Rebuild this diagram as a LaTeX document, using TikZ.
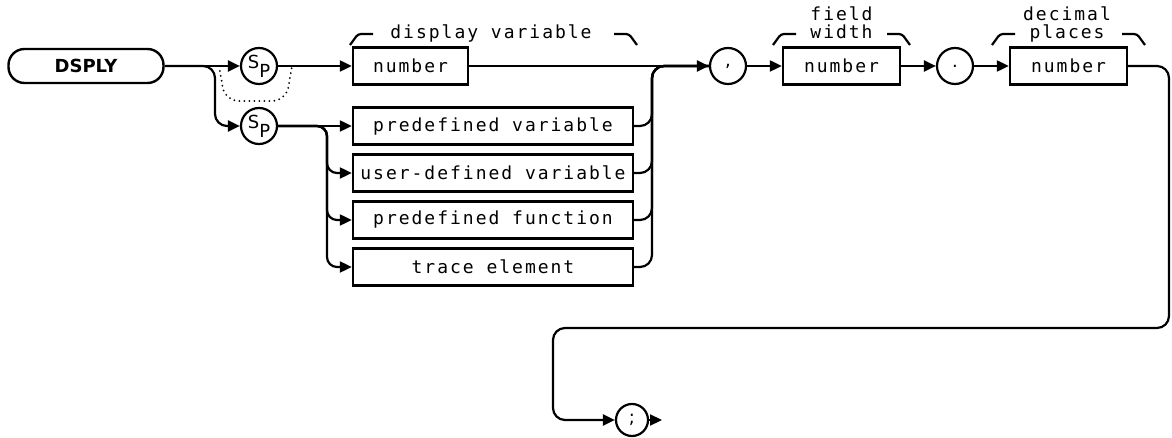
\documentclass[tikz,border=0pt]{standalone}
\usepackage{fontspec}
\setsansfont{DejaVu Sans}
\newfontfamily\hpmono{DejaVu Sans Mono}[LetterSpace=11]
\usetikzlibrary{arrows.meta}

\newcommand{\spchar}{\raisebox{4pt}{S}\raisebox{-5pt}{P}}

\begin{document}
\begin{tikzpicture}[x=1pt, y=-1pt,
        keyword/.style={draw, line width=2.4pt, rounded corners=16pt, minimum width=155pt, minimum height=34pt, inner sep=0pt, font=\sffamily\bfseries\fontsize{18}{20}\selectfont},
        box/.style={draw, line width=2.4pt, minimum height=37pt, inner sep=0pt, font=\hpmono\fontsize{18}{20}\selectfont},
        circ/.style={draw, circle, line width=2.2pt, minimum size=36pt, inner sep=0pt, font=\sffamily\fontsize{18}{20}\selectfont},
        lbl/.style={anchor=base, inner sep=0pt, font=\hpmono\fontsize{18}{20}\selectfont},
        flow/.style={line width=2.2pt, -{Triangle[length=12pt, width=11pt]}},
        merging/.style={line width=2.2pt, rounded corners=12pt},
        brace/.style={line width=2.2pt, rounded corners=3pt},
        bypass/.style={line width=2pt, line cap=round, dash pattern=on 0pt off 5pt, rounded corners=14pt}
    ]
    \useasboundingbox (0,0) rectangle (1172,438);

    \node (dsply) [keyword] at (86,66) {DSPLY};
    \node (sp1) [circ] at (259,66) {\spchar};
    \node (sp2) [circ] at (259,126) {\spchar};
    \node (num) [box, minimum width=115pt] at (410.5,66) {number};
    \node (pvar) [box, minimum width=280pt] at (493,126) {predefined variable};
    \node (uvar) [box, minimum width=280pt] at (493,173) {user-defined variable};
    \node (pfun) [box, minimum width=280pt] at (493,220) {predefined function};
    \node (trace) [box, minimum width=280pt] at (493,267) {trace element};
    \node (comma) [circ] at (728,66) {,};
    \node (fwidth) [box, minimum width=117pt] at (841.5,66) {number};
    \node (dot) [circ] at (955,66) {.};
    \node (dplaces) [box, minimum width=117pt] at (1068.5,66) {number};
    \node (semi) [circ, minimum size=32pt] at (632,420) {;};

    % labels over the number boxes
    \node (dvlbl) [lbl] at (491,39) {display variable};
    \node (flbl) [lbl] at (841.5,21) {field};
    \node (wlbl) [lbl] at (841.5,39) {width};
    \node (declbl) [lbl] at (1067,21) {decimal};
    \node (plbl) [lbl] at (1067,39) {places};
    \foreach \l/\r in {350/637, 773/910, 992/1145} {
        \draw [brace] (\l,45) -- ++(8,-11) -- ++(15,0);
        \draw [brace] (\r,45) -- ++(-8,-11) -- ++(-15,0);
    }

    \coordinate (split) at (215,0);
    \coordinate (byA) at (219,66);
    \coordinate (byB) at (292,66);
    \coordinate (fork) at (327,0);
    \coordinate (merge) at (652,66);
    \coordinate (rturn) at (1169,328);
    \coordinate (lturn) at (553,328);
    \coordinate (fin) at (662,420);

    \draw [flow] (dsply) -- (sp1);
    \draw [flow, rounded corners=12pt] (dsply.east) -| (sp2.west -| split) -- (sp2.west);
    \draw [bypass] (byA) -- (225,101) -- (286,101) -- (byB);
    \draw [flow] (sp1) -- (num);
    \draw [flow] (sp2) -- (pvar);
    \foreach \b in {uvar,pfun,trace}
        \draw [flow, rounded corners=10pt] (sp2.east) -| (\b.west -| fork) -- (\b.west);
    \foreach \b in {pvar,uvar,pfun,trace}
        \draw [merging] (\b.east) -| (merge) -- (comma.west);
    \draw [flow] (num) -- (comma);
    \draw [flow] (comma) -- (fwidth);
    \draw [flow] (fwidth) -- (dot);
    \draw [flow] (dot) -- (dplaces);
    \draw [flow, rounded corners=12pt] (dplaces.east) -| (rturn) -- (lturn) |- (semi.west);
    \draw [flow] (semi) -- (fin);
\end{tikzpicture}
\end{document}
